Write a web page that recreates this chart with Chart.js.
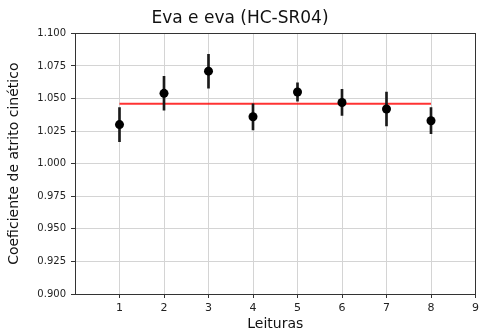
<!DOCTYPE html>
<html>
<head>
<meta charset="utf-8">
<script src="https://cdn.jsdelivr.net/npm/chart.js@4/dist/chart.umd.min.js"></script>
<style>
html,body{margin:0;padding:0;background:#fff;}
#wrap{width:480px;height:335px;}
</style>
</head>
<body>
<div id="wrap"><canvas id="c" width="480" height="335"></canvas></div>
<script>
const titulo = "Eva e eva (HC-SR04)";
const tituloX = "Leituras";
const tituloY = "Coeficiente de atrito cinético";
const leituras = [1, 2, 3, 4, 5, 6, 7, 8];
const coeficientes = [1.030, 1.054, 1.071, 1.036, 1.055, 1.047, 1.042, 1.033];
const incertezas = [0.013, 0.013, 0.013, 0.010, 0.007, 0.010, 0.013, 0.010];
const media = 1.046;
const xTicks = [1, 2, 3, 4, 5, 6, 7, 8, 9];

const pontos = leituras.map((x, i) => ({x: x, y: coeficientes[i]}));
const barras = leituras.map((x, i) => ({x: x, y: [coeficientes[i] - incertezas[i], coeficientes[i] + incertezas[i]]}));
const linhaMedia = [{x: leituras[0], y: media}, {x: leituras[leituras.length - 1], y: media}];

const FONT = "'DejaVu Sans', sans-serif";

const frame = {
  id: 'frame',
  afterDraw(chart) {
    const a = chart.chartArea, ctx = chart.ctx;
    ctx.save();
    ctx.strokeStyle = '#333';
    ctx.lineWidth = 1;
    ctx.strokeRect(Math.round(a.left) + 0.5, Math.round(a.top) + 0.5, Math.round(a.right - a.left) - 1, Math.round(a.bottom - a.top));
    ctx.restore();
  }
};

new Chart(document.getElementById('c'), {
  type: 'scatter',
  data: {
    datasets: [
      {
        type: 'line',
        data: linhaMedia,
        borderColor: 'rgba(255,0,0,0.8)',
        borderWidth: 2,
        pointRadius: 0,
        fill: false,
        order: 3
      },
      {
        type: 'bar',
        data: barras,
        backgroundColor: '#1a1a1a',
        borderWidth: 0,
        barThickness: 2,
        order: 2
      },
      {
        type: 'scatter',
        data: pontos,
        backgroundColor: '#000',
        borderColor: '#000',
        pointRadius: 4.5,
        borderWidth: 0,
        order: 1
      }
    ]
  },
  options: {
    responsive: false,
    animation: false,
    events: [],
    layout: {padding: {left: 0, right: 0, top: 0, bottom: 0}},
    plugins: {
      legend: {display: false},
      tooltip: {enabled: false},
      title: {
        display: true,
        text: titulo,
        color: '#111',
        font: {family: FONT, size: 17, weight: 'normal'},
        padding: {top: 8, bottom: 5}
      }
    },
    scales: {
      x: {
        type: 'linear',
        min: 0,
        max: 9,
        offset: false,
        afterBuildTicks: (s) => { s.ticks = xTicks.map(v => ({value: v})); },
        afterFit: (s) => { s.height = 41; s.paddingRight = 2; s.paddingLeft = 0; },
        ticks: {
          color: '#222',
          font: {family: FONT, size: 11},
          padding: 4,
          maxRotation: 0,
          autoSkip: false
        },
        grid: {offset: false, color: '#d4d4d4', lineWidth: 1, tickLength: 4, tickColor: '#333', drawOnChartArea: true},
        border: {display: true, color: '#333'},
        title: {
          display: true,
          text: tituloX,
          color: '#111',
          font: {family: FONT, size: 14},
          padding: {top: 0, bottom: 2}
        }
      },
      y: {
        type: 'linear',
        min: 0.9,
        max: 1.1,
        afterFit: (s) => { s.width = 75; },
        ticks: {
          stepSize: 0.025,
          color: '#222',
          font: {family: FONT, size: 10},
          padding: 5,
          callback: (v) => Number(v).toFixed(3)
        },
        grid: {color: '#d4d4d4', lineWidth: 1, tickLength: 4, tickColor: '#333'},
        border: {display: true, color: '#333'},
        title: {
          display: true,
          text: tituloY,
          color: '#111',
          font: {family: FONT, size: 14},
          padding: {top: 6, bottom: 0}
        }
      }
    }
  },
  plugins: [frame]
});
</script>
</body>
</html>
